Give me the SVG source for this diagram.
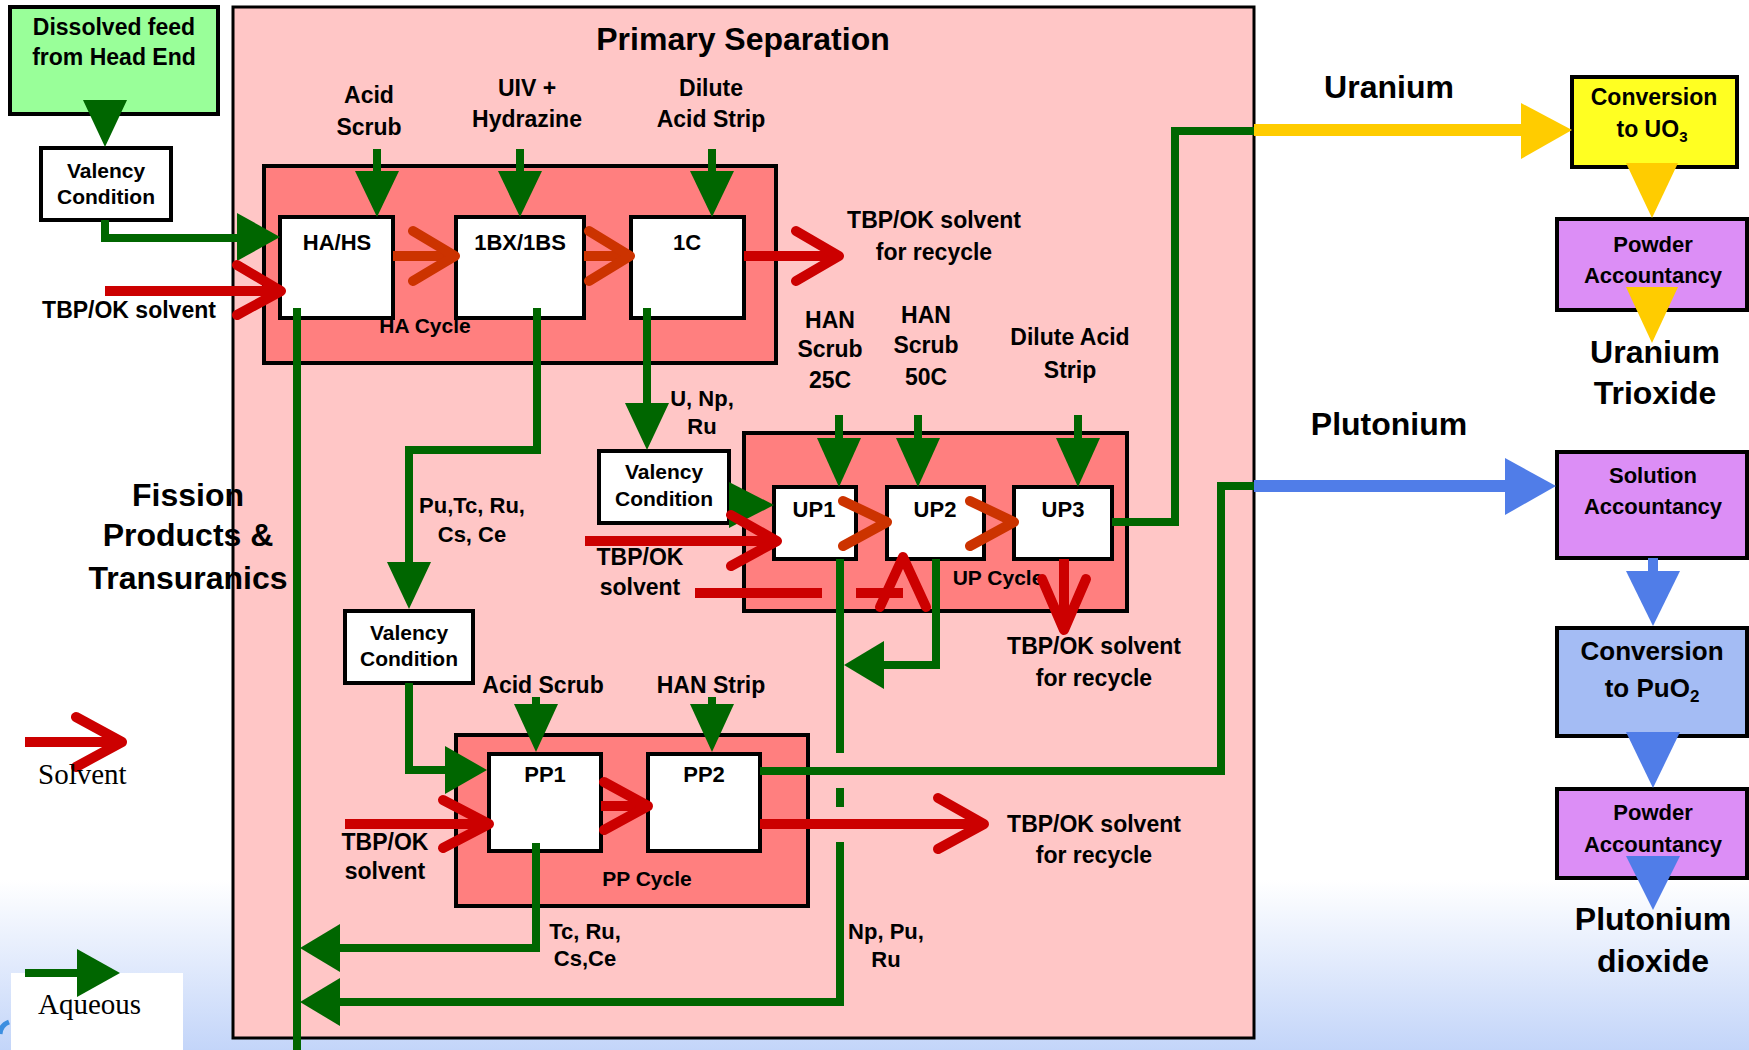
<svg xmlns="http://www.w3.org/2000/svg" width="1749" height="1050" viewBox="0 0 1749 1050">
<style>
text{font-family:"Liberation Sans",Arial,sans-serif;font-weight:bold;fill:#000;text-anchor:middle}
.t22{font-size:22px}.t21{font-size:21px}.t23{font-size:23px}.t32{font-size:32px}.t26{font-size:26px}
.leg{font-family:"Liberation Serif","Times New Roman",serif;font-weight:normal;font-size:29px;text-anchor:start}
.box{fill:#fff;stroke:#000;stroke-width:4}
.cyc{fill:#ff7f7f;stroke:#000;stroke-width:4}
.g{stroke:#006600;stroke-width:8;fill:none}
.gt{fill:#006600}
.rs{stroke:#cc0000;stroke-width:10;fill:none}
.rc{stroke:#cc0000;stroke-width:10;fill:none;stroke-linecap:round;stroke-linejoin:round}
.oc{stroke:#cc3300;stroke-width:10;fill:none;stroke-linecap:round;stroke-linejoin:round}
.os{stroke:#cc3300;stroke-width:10;fill:none}
.vio{fill:#dc8ef6;stroke:#000;stroke-width:4}
</style>
<defs>
<linearGradient id="bg" gradientUnits="userSpaceOnUse" x1="0" y1="880" x2="0" y2="1050">
<stop offset="0" stop-color="#ffffff"/><stop offset="1" stop-color="#c3d5f9"/>
</linearGradient>
</defs>
<rect x="0" y="0" width="1749" height="1050" fill="url(#bg)"/>
<path d="M0 1034 A14 14 0 0 1 9 1022" stroke="#3d8fe0" stroke-width="5" fill="none"/>

<g id="primary-separation">
<rect x="233" y="7" width="1021" height="1031" fill="#ffc6c6" stroke="#000" stroke-width="3"/>
<text class="t32" x="743" y="50">Primary Separation</text>
</g>

<g id="fission-products">
<text class="t32" x="188" y="506">Fission</text>
<text class="t32" x="188" y="546">Products &amp;</text>
<text class="t32" x="188" y="589">Transuranics</text>
</g>

<g id="ha-cycle">
<rect class="cyc" x="264" y="166" width="512" height="197"/>
<text class="t21" x="425" y="333">HA Cycle</text>
</g>
<g id="up-cycle">
<rect class="cyc" x="744" y="433" width="383" height="178"/>
<text class="t21" x="998" y="585">UP Cycle</text>
</g>
<g id="pp-cycle">
<rect class="cyc" x="456" y="735" width="352" height="171"/>
<text class="t21" x="647" y="886">PP Cycle</text>
</g>

<g id="dissolved-feed">
<rect x="10" y="7" width="208" height="107" fill="#99ff99" stroke="#000" stroke-width="4"/>
<text class="t23" x="114" y="35">Dissolved feed</text>
<text class="t23" x="114" y="65">from Head End</text>
</g>
<g id="valency-1">
<rect class="box" x="41" y="148" width="130" height="72"/>
<text class="t21" x="106" y="178">Valency</text>
<text class="t21" x="106" y="204">Condition</text>
</g>
<g id="valency-2">
<rect class="box" x="599" y="451" width="130" height="72"/>
<text class="t21" x="664" y="479">Valency</text>
<text class="t21" x="664" y="506">Condition</text>
</g>
<g id="valency-3">
<rect class="box" x="345" y="611" width="128" height="72"/>
<text class="t21" x="409" y="640">Valency</text>
<text class="t21" x="409" y="666">Condition</text>
</g>
<g id="ha-hs">
<rect class="box" x="280" y="217" width="113" height="101"/>
<text class="t22" x="337" y="250">HA/HS</text>
</g>
<g id="bx-bs">
<rect class="box" x="456" y="217" width="128" height="101"/>
<text class="t22" x="520" y="250">1BX/1BS</text>
</g>
<g id="c1">
<rect class="box" x="631" y="217" width="113" height="101"/>
<text class="t22" x="687" y="250">1C</text>
</g>
<g id="up1">
<rect class="box" x="774" y="487" width="82" height="72"/>
<text class="t22" x="814" y="517">UP1</text>
</g>
<g id="up2">
<rect class="box" x="887" y="487" width="97" height="72"/>
<text class="t22" x="935" y="517">UP2</text>
</g>
<g id="up3">
<rect class="box" x="1014" y="487" width="98" height="72"/>
<text class="t22" x="1063" y="517">UP3</text>
</g>
<g id="pp1">
<rect class="box" x="489" y="754" width="112" height="97"/>
<text class="t22" x="545" y="782">PP1</text>
</g>
<g id="pp2">
<rect class="box" x="648" y="754" width="112" height="97"/>
<text class="t22" x="704" y="782">PP2</text>
</g>

<g id="conv-uo3">
<rect x="1572" y="77" width="165" height="90" fill="#ffff22" stroke="#000" stroke-width="4"/>
<text class="t23" x="1654" y="105">Conversion</text>
<text class="t23" x="1652" y="137">to UO<tspan font-size="15" dy="5">3</tspan></text>
</g>
<g id="powder-u">
<rect class="vio" x="1557" y="219" width="190" height="91"/>
<text class="t22" x="1653" y="252">Powder</text>
<text class="t22" x="1653" y="283">Accountancy</text>
</g>
<g id="solution-acc">
<rect class="vio" x="1557" y="452" width="190" height="106"/>
<text class="t22" x="1653" y="483">Solution</text>
<text class="t22" x="1653" y="514">Accountancy</text>
</g>
<g id="conv-puo2">
<rect x="1557" y="628" width="190" height="108" fill="#a4bcf4" stroke="#000" stroke-width="4"/>
<text class="t26" x="1652" y="660">Conversion</text>
<text class="t26" x="1652" y="697">to PuO<tspan font-size="17" dy="5">2</tspan></text>
</g>
<g id="powder-pu">
<rect class="vio" x="1557" y="789" width="190" height="89"/>
<text class="t22" x="1653" y="820">Powder</text>
<text class="t22" x="1653" y="852">Accountancy</text>
</g>

<g id="legend">
<rect x="11" y="973" width="172" height="77" fill="#fff"/>
<path class="rs" d="M25 742 H122"/>
<path class="rc" d="M76 717 L122 742 L76 767"/>
<text class="leg" x="38" y="784">Solvent</text>
<path class="g" d="M25 973 H80"/>
<polygon class="gt" points="77,949 77,997 120,973"/>
<text class="leg" x="38" y="1014">Aqueous</text>
</g>

<g id="connectors">
<polygon class="gt" points="83,100 127,100 105,147"/>
<path class="g" d="M105 220 V238 H240"/>
<polygon class="gt" points="237,213 237,261 280,237"/>
<path class="rs" d="M105 291 H281"/>
<path class="rc" d="M237 265 L281 291 L237 315"/>
<path class="g" d="M377 149 V172 M520 149 V172 M712 149 V172"/>
<polygon class="gt" points="355,171 399,171 377,217"/>
<polygon class="gt" points="498,171 542,171 520,217"/>
<polygon class="gt" points="690,171 734,171 712,217"/>
<path class="os" d="M393 256 H455 M584 256 H630"/>
<path class="oc" d="M413 231 L455 256 L413 281 M589 231 L630 256 L589 281"/>
<path class="rs" d="M744 256 H839"/>
<path class="rc" d="M796 231 L839 256 L796 281"/>
<path class="g" d="M297 308 V1050"/>
<path class="g" d="M537 308 V450 H409 V563"/>
<polygon class="gt" points="387,562 431,562 409,609"/>
<path class="g" d="M647 308 V404"/>
<polygon class="gt" points="625,403 669,403 647,450"/>
<polygon class="gt" points="729,482 729,528 774,505"/>
<path class="g" d="M839 415 V439 M918 415 V439 M1078 415 V439"/>
<polygon class="gt" points="817,438 861,438 839,487"/>
<polygon class="gt" points="896,438 940,438 918,487"/>
<polygon class="gt" points="1056,438 1100,438 1078,487"/>
<path class="rs" d="M585 541 H777"/>
<path class="rc" d="M731 515 L777 541 L731 566"/>
<path class="rs" d="M695 593 H822 M856 593 H903"/>
<path class="rc" d="M880 607 L903 557 L926 607"/>
<path class="oc" d="M843 501 L887 522 L843 546 M970 501 L1014 522 L970 546"/>
<path class="g" d="M1112 522 H1175 V131 H1254"/>
<path stroke="#ffcc00" stroke-width="12" fill="none" d="M1254 130 H1523"/>
<polygon fill="#ffcc00" points="1521,103 1521,159 1572,130"/>
<path class="rs" d="M1064 559 V630"/>
<path class="rc" d="M1042 579 L1064 630 L1086 579"/>
<path class="g" d="M840 559 V753 M840 788 V807 M840 842 V1002 H338"/>
<polygon class="gt" points="340,978 340,1026 300,1002"/>
<path class="g" d="M936 559 V665 H882"/>
<polygon class="gt" points="884,641 884,689 844,665"/>
<path class="g" d="M409 683 V770 H447"/>
<polygon class="gt" points="445,746 445,794 487,770"/>
<path class="g" d="M536 697 V705 M712 697 V705"/>
<polygon class="gt" points="514,704 558,704 536,752"/>
<polygon class="gt" points="690,704 734,704 712,752"/>
<path class="rs" d="M345 824 H489"/>
<path class="rc" d="M443 800 L489 824 L443 848"/>
<path class="rs" d="M601 806 H648"/>
<path class="rc" d="M604 782 L648 806 L604 830"/>
<path class="rs" d="M760 824 H984"/>
<path class="rc" d="M938 798 L984 824 L938 849"/>
<path class="g" d="M760 771 H1221 V486 H1254"/>
<path stroke="#507de8" stroke-width="12" fill="none" d="M1254 486 H1507"/>
<polygon fill="#507de8" points="1505,458 1505,515 1556,486"/>
<path class="g" d="M536 843 V948 H338"/>
<polygon class="gt" points="340,924 340,972 300,948"/>
<polygon fill="#ffcc00" points="1626,163 1678,163 1652,218"/>
<polygon fill="#ffcc00" points="1626,287 1678,287 1652,343"/>
<path stroke="#507de8" stroke-width="10" d="M1653 558 V573"/>
<polygon fill="#507de8" points="1626,571 1680,571 1653,626"/>
<polygon fill="#507de8" points="1626,732 1680,732 1653,788"/>
<polygon fill="#507de8" points="1626,856 1680,856 1653,910"/>
</g>

<g id="labels">
<text class="t23" x="369" y="103">Acid</text>
<text class="t23" x="369" y="135">Scrub</text>
<text class="t23" x="527" y="96">UIV +</text>
<text class="t23" x="527" y="127">Hydrazine</text>
<text class="t23" x="711" y="96">Dilute</text>
<text class="t23" x="711" y="127">Acid Strip</text>
<text class="t23" x="129" y="318">TBP/OK solvent</text>
<text class="t23" x="934" y="228">TBP/OK solvent</text>
<text class="t23" x="934" y="260">for recycle</text>
<text class="t23" x="830" y="328">HAN</text>
<text class="t23" x="830" y="357">Scrub</text>
<text class="t23" x="830" y="388">25C</text>
<text class="t23" x="926" y="323">HAN</text>
<text class="t23" x="926" y="353">Scrub</text>
<text class="t23" x="926" y="385">50C</text>
<text class="t23" x="1070" y="345">Dilute Acid</text>
<text class="t23" x="1070" y="378">Strip</text>
<text class="t22" x="702" y="406">U, Np,</text>
<text class="t22" x="702" y="434">Ru</text>
<text class="t23" x="640" y="565">TBP/OK</text>
<text class="t23" x="640" y="595">solvent</text>
<text class="t23" x="1094" y="654">TBP/OK solvent</text>
<text class="t23" x="1094" y="686">for recycle</text>
<text class="t22" x="472" y="513">Pu,Tc, Ru,</text>
<text class="t22" x="472" y="542">Cs, Ce</text>
<text class="t23" x="543" y="693">Acid Scrub</text>
<text class="t23" x="711" y="693">HAN Strip</text>
<text class="t23" x="385" y="850">TBP/OK</text>
<text class="t23" x="385" y="879">solvent</text>
<text class="t23" x="1094" y="832">TBP/OK solvent</text>
<text class="t23" x="1094" y="863">for recycle</text>
<text class="t22" x="585" y="939">Tc, Ru,</text>
<text class="t22" x="585" y="966">Cs,Ce</text>
<text class="t22" x="886" y="939">Np, Pu,</text>
<text class="t22" x="886" y="967">Ru</text>
<text class="t32" x="1389" y="98">Uranium</text>
<text class="t32" x="1389" y="435">Plutonium</text>
<text class="t32" x="1655" y="363">Uranium</text>
<text class="t32" x="1655" y="404">Trioxide</text>
<text class="t32" x="1653" y="930">Plutonium</text>
<text class="t32" x="1653" y="972">dioxide</text>
</g>
</svg>
